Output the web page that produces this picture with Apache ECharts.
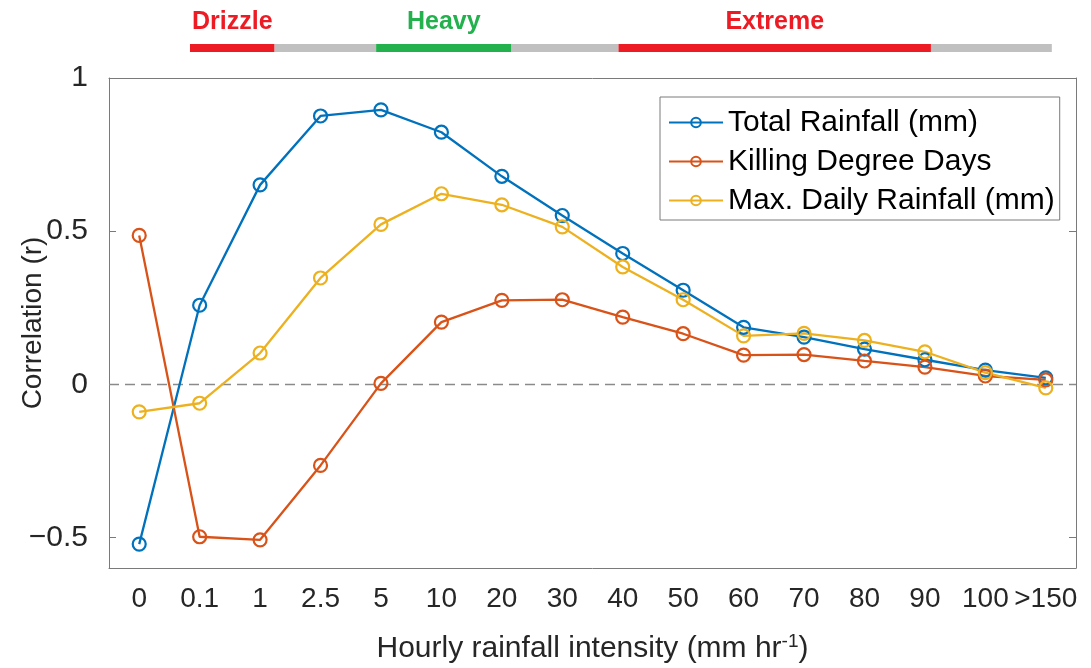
<!DOCTYPE html>
<html>
<head>
<meta charset="utf-8">
<script src="https://cdn.jsdelivr.net/npm/echarts@6/dist/echarts.min.js"></script>
<style>
  html, body { margin: 0; padding: 0; background: #fff; }
  #chart { width: 1091px; height: 668px; }
</style>
</head>
<body>
<div id="chart"></div>
<script>
// Hourly rainfall intensity classes (mm hr-1)
const categories = ['0', '0.1', '1', '2.5', '5', '10', '20', '30', '40', '50', '60', '70', '80', '90', '100', '>150'];

// Correlation (r) of each variable with yield, per intensity class
const totalRainfall     = [-0.522, 0.258, 0.651, 0.876, 0.896, 0.823, 0.679, 0.551, 0.427, 0.307, 0.186, 0.154, 0.115, 0.080, 0.046, 0.021];
const killingDegreeDays = [0.486, -0.498, -0.508, -0.265, 0.003, 0.203, 0.274, 0.276, 0.219, 0.165, 0.095, 0.097, 0.076, 0.056, 0.027, 0.014];
const maxDailyRainfall  = [-0.090, -0.062, 0.102, 0.347, 0.522, 0.622, 0.586, 0.514, 0.383, 0.276, 0.158, 0.166, 0.143, 0.106, 0.038, -0.012];

const yTicks = [-0.5, 0, 0.5, 1];

// Intensity regimes along the category axis (edges in category-index units)
const bandEdges = [0.84, 2.24, 3.92, 6.16, 7.93, 13.1, 15.1];
const bandNames = ['Drizzle', '', 'Heavy', '', 'Extreme', ''];

const FONT = '"Liberation Sans", Arial, Helvetica, sans-serif';
const AXIS_COLOR = '#7a7a7a';
const TEXT_COLOR = '#262626';
const bandColors = { 'Drizzle': '#ED1C24', 'Heavy': '#22B14C', 'Extreme': '#ED1C24', '': '#C0C0C0' };

const seriesColors = ['#0072BD', '#D95319', '#EDB120'];

function lineSeries(name, data, color, extra) {
  return Object.assign({
    name: name,
    type: 'line',
    xAxisIndex: 0,
    yAxisIndex: 0,
    data: data,
    color: color,
    symbol: 'circle',
    symbolSize: 13,
    lineStyle: { color: color, width: 2.3 },
    itemStyle: { color: 'rgba(255,255,255,0)', borderColor: color, borderWidth: 2.2 },
    emphasis: { disabled: true },
    animation: false
  }, extra || {});
}

const chart = echarts.init(document.getElementById('chart'), null, { renderer: 'canvas' });

chart.setOption({
  backgroundColor: '#fff',
  animation: false,
  textStyle: { fontFamily: FONT },
  grid: [
    { left: 109, right: 15, top: 78, bottom: 100, outerBoundsMode: 'none' },
    { left: 109, right: 15, top: 40, height: 16, outerBoundsMode: 'none' }
  ],
  legend: {
    orient: 'vertical',
    left: 660,
    top: 97,
    backgroundColor: '#fff',
    borderColor: AXIS_COLOR,
    borderWidth: 1,
    borderRadius: 0,
    padding: [10, 5, 4, 8],
    itemWidth: 54,
    itemHeight: 12,
    itemGap: 8,
    textStyle: { fontSize: 30, color: '#000', fontFamily: FONT, lineHeight: 31 },
    data: ['Total Rainfall (mm)', 'Killing Degree Days', 'Max. Daily Rainfall (mm)']
  },
  xAxis: [
    {
      type: 'category',
      gridIndex: 0,
      data: categories,
      boundaryGap: true,
      position: 'bottom',
      axisLine: { onZero: false, lineStyle: { color: AXIS_COLOR, width: 1 } },
      axisTick: { inside: true, alignWithLabel: true, length: 7, lineStyle: { color: AXIS_COLOR } },
      axisLabel: { fontSize: 28, color: TEXT_COLOR, margin: 17, interval: 0, fontFamily: FONT },
      splitLine: { show: false },
      name: 'Hourly rainfall intensity (mm hr{sup|-1})',
      nameLocation: 'middle',
      nameGap: 64,
      nameMoveOverlap: false,
      nameTextStyle: {
        fontSize: 30, color: TEXT_COLOR, fontFamily: FONT, verticalAlign: 'top',
        rich: { sup: { fontSize: 19, color: TEXT_COLOR, verticalAlign: 'top', padding: [0, 0, 14, 0], fontFamily: FONT } }
      }
    },
    {
      type: 'category',
      gridIndex: 0,
      data: categories,
      boundaryGap: true,
      position: 'top',
      axisLine: { onZero: false, lineStyle: { color: AXIS_COLOR, width: 1 } },
      axisTick: { inside: true, alignWithLabel: true, length: 7, lineStyle: { color: AXIS_COLOR } },
      axisLabel: { show: false },
      splitLine: { show: false }
    },
    {
      type: 'value',
      gridIndex: 1,
      min: -0.5,
      max: categories.length - 0.5,
      show: false
    }
  ],
  yAxis: [
    {
      type: 'value',
      gridIndex: 0,
      min: -0.6,
      max: 1,
      position: 'left',
      axisLine: { show: true, onZero: false, lineStyle: { color: AXIS_COLOR, width: 1 } },
      axisTick: { show: true, inside: true, length: 7, customValues: yTicks, lineStyle: { color: AXIS_COLOR } },
      axisLabel: {
        fontSize: 30, color: TEXT_COLOR, margin: 21, customValues: yTicks, fontFamily: FONT,
        formatter: v => String(v).replace('-', '\u2212')
      },
      splitLine: { show: false },
      name: 'Correlation (r)',
      nameLocation: 'middle',
      nameGap: 62,
      nameMoveOverlap: false,
      nameTextStyle: { fontSize: 28, color: TEXT_COLOR, fontFamily: FONT }
    },
    {
      type: 'value',
      gridIndex: 0,
      min: -0.6,
      max: 1,
      position: 'right',
      axisLine: { show: true, onZero: false, lineStyle: { color: AXIS_COLOR, width: 1 } },
      axisTick: { show: true, inside: true, length: 7, customValues: yTicks, lineStyle: { color: AXIS_COLOR } },
      axisLabel: { show: false },
      splitLine: { show: false }
    },
    {
      type: 'value',
      gridIndex: 1,
      min: 0,
      max: 1,
      show: false
    }
  ],
  series: [
    lineSeries('Total Rainfall (mm)', totalRainfall, seriesColors[0], {
      markLine: {
        silent: true,
        symbol: 'none',
        label: { show: false },
        lineStyle: { color: '#8a8a8a', type: [10, 6], width: 1.3 },
        data: [{ yAxis: 0 }],
        z: 1
      }
    }),
    lineSeries('Killing Degree Days', killingDegreeDays, seriesColors[1]),
    lineSeries('Max. Daily Rainfall (mm)', maxDailyRainfall, seriesColors[2]),
    {
      // regime bar above the plot, with class names over the coloured spans
      type: 'custom',
      xAxisIndex: 2,
      yAxisIndex: 2,
      silent: true,
      animation: false,
      data: bandNames.map((n, i) => [bandEdges[i], bandEdges[i + 1], i]),
      renderItem: function (params, api) {
        const idx = api.value(2);
        const name = bandNames[idx];
        const p0 = api.coord([api.value(0), 0.5]);
        const p1 = api.coord([api.value(1), 0.5]);
        const color = bandColors[name];
        const children = [{
          type: 'rect',
          shape: { x: p0[0], y: p0[1] - 4, width: p1[0] - p0[0], height: 8 },
          style: { fill: color }
        }];
        if (name) {
          children.push({
            type: 'text',
            x: (p0[0] + p1[0]) / 2,
            y: p0[1] - 26,
            style: {
              text: name,
              fill: color,
              fontSize: 25,
              fontWeight: 'bold',
              fontFamily: FONT,
              align: 'center',
              verticalAlign: 'middle'
            }
          });
        }
        return { type: 'group', children: children };
      }
    }
  ]
});
</script>
</body>
</html>
